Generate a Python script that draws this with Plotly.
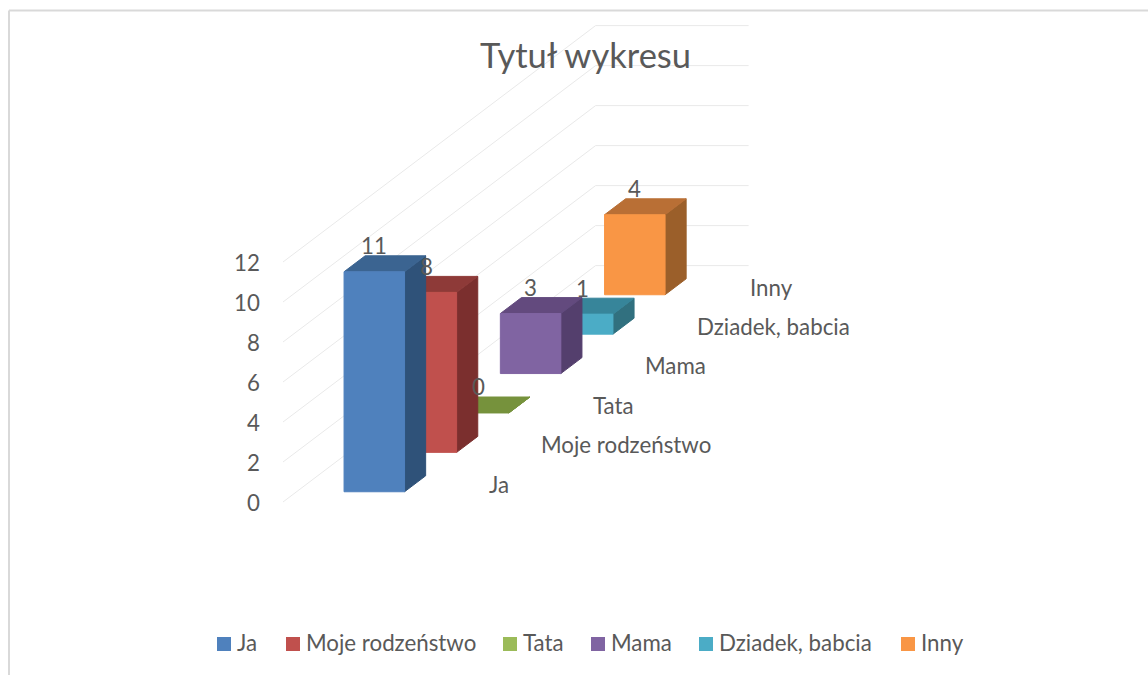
import plotly.graph_objects as go

# ---- data ----
title = "Tytuł wykresu"
categories = ["Ja", "Moje rodzeństwo", "Tata", "Mama", "Dziadek, babcia", "Inny"]
values = [11, 8, 0, 3, 1, 4]
y_ticks = [0, 2, 4, 6, 8, 10, 12]
front_colors = ["#4F81BD", "#C0504D", "#76923C", "#8064A2", "#4BACC6", "#F99645"]
top_colors = ["#3B6491", "#8E3A38", "#76923C", "#634A7E", "#37859A", "#B96F35"]
side_colors = ["#2F5279", "#7B2F2E", "#76923C", "#543F6D", "#31707F", "#9B5F2A"]
legend_colors = ["#4F81BD", "#C0504D", "#9BBB59", "#8064A2", "#4BACC6", "#F99645"]
legend_swatch_x = [217, 286, 503, 591, 699, 901]

FONT = "Lato"
TEXT = "#595959"
GRID = "#E9E9E9"

# ---- oblique projection of the Excel 3-D chart onto the page ----
ORIGIN_X, ORIGIN_Y = 283.0, 502.0
UNIT = 20.0                 # pixels per value unit
CAT_DX, CAT_DY = 52.1, -39.4   # one category deeper
WIDTH = 153.0               # floor width
BAR_L, BAR_W = 47.5, 60.5   # lateral position and width of bars
BAR_D0, BAR_D = 0.26, 0.405 # depth start and length of bars, in categories


def project(lateral, depth, value):
    return (ORIGIN_X + lateral + CAT_DX * depth,
            ORIGIN_Y + CAT_DY * depth - UNIT * value)


def poly(points, color, line=None):
    xs, ys = zip(*[project(*p) for p in points + points[:1]])
    return go.Scatter(x=xs, y=ys, mode="lines", fill="toself", fillcolor=color,
                      line=dict(color=line or color, width=1), hoverinfo="skip",
                      showlegend=False)


fig = go.Figure()

# gridlines: front-to-back on the side wall, then across the back wall
gx, gy = [], []
n = len(categories)
for t in y_ticks:
    for p in [(0, 0, t), (0, n, t), (WIDTH, n, t)]:
        x, y = project(*p)
        gx.append(x)
        gy.append(y)
    gx.append(None)
    gy.append(None)
fig.add_trace(go.Scatter(x=gx, y=gy, mode="lines", line=dict(color=GRID, width=1),
                         hoverinfo="skip", showlegend=False))

# bars, drawn back to front
for i in reversed(range(n)):
    v = values[i]
    l0, l1 = BAR_L, BAR_L + BAR_W
    d0, d1 = i + BAR_D0, i + BAR_D0 + BAR_D
    fig.add_trace(poly([(l1, d0, 0), (l1, d1, 0), (l1, d1, v), (l1, d0, v)], side_colors[i]))
    fig.add_trace(poly([(l0, d0, v), (l1, d0, v), (l1, d1, v), (l0, d1, v)], top_colors[i]))
    if v > 0:
        fig.add_trace(poly([(l0, d0, 0), (l1, d0, 0), (l1, d0, v), (l0, d0, v)], front_colors[i]))

annotations = []


def text(x, y, s, size, anchor="left"):
    annotations.append(dict(x=x, y=y, text=s, xref="x", yref="y", showarrow=False,
                            xanchor=anchor, yanchor="middle", borderpad=0,
                            font=dict(family=FONT, size=size, color=TEXT)))


# title
text(585, 54, title, 34.5, "center")

# value axis labels
for t in y_ticks:
    x, y = project(0, 0, t)
    text(x - 22, y + 0.5, str(t), 22.3, "right")

# data labels
for i, v in enumerate(values):
    x, y = project(BAR_L + BAR_W / 2, i + BAR_D0, v)
    text(x, y - 26, str(v), 22.3, "center")

# category labels
for i, c in enumerate(categories):
    x, y = project(WIDTH + 52, i, 0)
    text(x, y - 18, c, 22.3)

# legend
shapes = []
for c, s, col in zip(categories, legend_swatch_x, legend_colors):
    shapes.append(dict(type="rect", xref="x", yref="y", x0=s, x1=s + 14, y0=637, y1=651,
                       fillcolor=col, line=dict(width=0)))
    text(s + 19, 642, c, 22.3)

# chart frame (top and left edges are all that show)
for (x0, y0, x1, y1) in [(9, 10.5, 1148, 10.5), (9, 10.5, 9, 675)]:
    shapes.append(dict(type="line", xref="x", yref="y", x0=x0, y0=y0, x1=x1, y1=y1,
                       line=dict(color="#D9D9D9", width=2)))

fig.update_layout(
    width=1148, height=675, margin=dict(l=0, r=0, t=0, b=0),
    paper_bgcolor="white", plot_bgcolor="white", showlegend=False,
    xaxis=dict(range=[0, 1148], visible=False, fixedrange=True),
    yaxis=dict(range=[675, 0], visible=False, fixedrange=True),
    annotations=annotations, shapes=shapes,
)

fig.write_html("out.html", config=dict(displayModeBar=False),
               post_script="document.body.style.margin='0';document.documentElement.style.overflow='hidden';")
